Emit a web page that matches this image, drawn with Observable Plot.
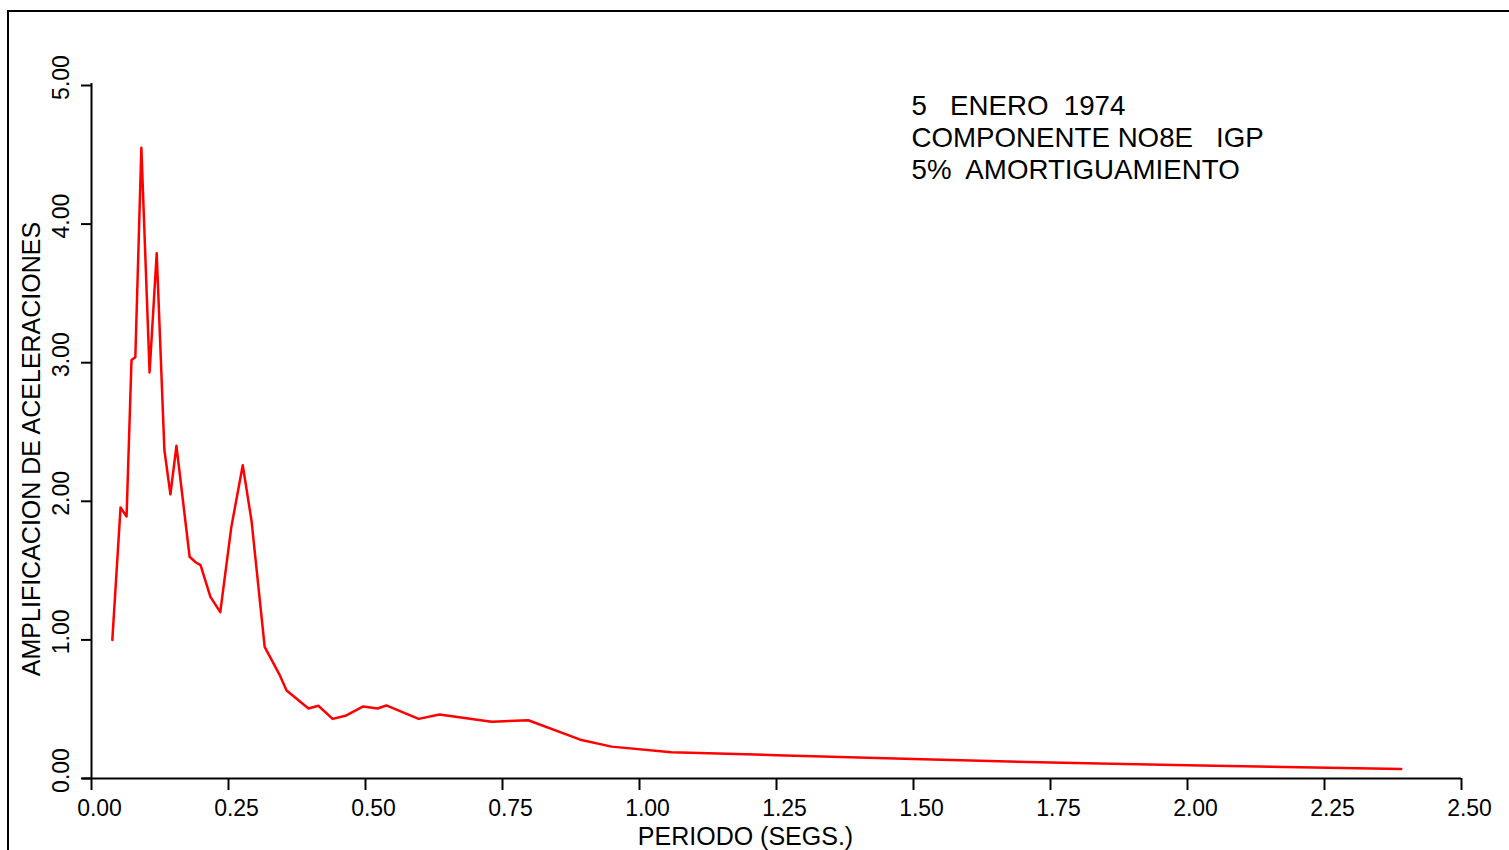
<!DOCTYPE html>
<html>
<head>
<meta charset="utf-8">
<script src="https://cdn.jsdelivr.net/npm/d3@7"></script>
<script src="https://cdn.jsdelivr.net/npm/@observablehq/plot@0.6"></script>
<style>
  html, body { margin: 0; padding: 0; background: #fff; overflow: hidden; }
  #chart { position: relative; width: 1509px; height: 850px; }
  #chart svg { display: block; }
  #chart svg text { white-space: pre; }
  #border { position: absolute; left: 7px; top: 10px; width: 1600px; height: 1000px;
            border: 2px solid #000; box-sizing: border-box; pointer-events: none; }
</style>
</head>
<body>
<div id="chart"><div id="border"></div></div>
<script>
// Periods (s) and spectral acceleration amplification
const periods = [0.038, 0.053, 0.064, 0.073, 0.080, 0.091, 0.106, 0.119, 0.133, 0.144, 0.155,
  0.179, 0.190, 0.199, 0.217, 0.235, 0.255, 0.276, 0.292, 0.316, 0.343, 0.356, 0.396, 0.414,
  0.440, 0.465, 0.496, 0.522, 0.538, 0.597, 0.635, 0.730, 0.797, 0.892, 0.949, 1.058,
  1.25, 1.50, 1.75, 2.00, 2.39];
const amplification = [1.00, 1.955, 1.89, 3.02, 3.04, 4.55, 2.93, 3.79, 2.37, 2.05, 2.40,
  1.60, 1.56, 1.54, 1.31, 1.20, 1.81, 2.26, 1.86, 0.95, 0.75, 0.635, 0.505, 0.525,
  0.43, 0.455, 0.52, 0.505, 0.527, 0.43, 0.462, 0.41, 0.42, 0.28, 0.23, 0.19,
  0.168, 0.140, 0.115, 0.095, 0.068];
const xTicks = [0, 0.25, 0.5, 0.75, 1.0, 1.25, 1.5, 1.75, 2.0, 2.25, 2.5];
const yTicks = [0, 1, 2, 3, 4, 5];
const xLabel = "PERIODO (SEGS.)";
const yLabel = "AMPLIFICACION DE ACELERACIONES";
const notes = ["5   ENERO  1974", "COMPONENTE NO8E   IGP", "5%  AMORTIGUAMIENTO"];

const data = periods.map((p, i) => ({period: p, amp: amplification[i]}));
const fmt = d3.format(".2f");
const blank = () => "";

const chart = Plot.plot({
  width: 1509,
  height: 850,
  marginLeft: 91,
  marginRight: 48,
  marginTop: 85,
  marginBottom: 72,
  style: {fontFamily: "'Liberation Sans', Arial, sans-serif", color: "#000", background: "#fff"},
  x: {domain: [0, 2.5]},
  y: {domain: [0, 5]},
  marks: [
    // tick lines
    Plot.axisX({ticks: xTicks, tickFormat: blank, tickSize: 12, strokeWidth: 2, label: null}),
    Plot.axisY({ticks: yTicks, tickFormat: blank, tickSize: 10, strokeWidth: 2, label: null}),
    // tick labels (offset like the reference)
    Plot.axisX({ticks: xTicks, tickFormat: fmt, tickSize: 0, tickPadding: 21, dx: 8,
      fontSize: 23, label: null}),
    Plot.axisY({ticks: yTicks, tickFormat: fmt, tickSize: 0, tickPadding: 30, dy: -8,
      tickRotate: -90, textAnchor: "middle", lineAnchor: "middle", fontSize: 23, label: null}),
    Plot.ruleY([0], {strokeWidth: 2, insetLeft: -9}),
    Plot.ruleX([0], {strokeWidth: 2, insetTop: -2}),
    Plot.line(data, {x: "period", y: "amp", stroke: "#ff0000", strokeWidth: 2.5}),
    Plot.text([xLabel], {frameAnchor: "bottom", dx: -31, dy: 58, lineAnchor: "middle",
      textAnchor: "middle", fontSize: 25, fill: "#000"}),
    Plot.text([yLabel], {frameAnchor: "left", dx: -60, dy: 17, rotate: -90, lineAnchor: "middle",
      textAnchor: "middle", fontSize: 25, fill: "#000"}),
    Plot.text([notes.join("\n")], {frameAnchor: "top-left", dx: 820, dy: 7, lineAnchor: "top",
      textAnchor: "start", lineHeight: 32 / 27.7, fontSize: 27.7, fill: "#000"})
  ]
});
document.getElementById("chart").appendChild(chart);
</script>
</body>
</html>
